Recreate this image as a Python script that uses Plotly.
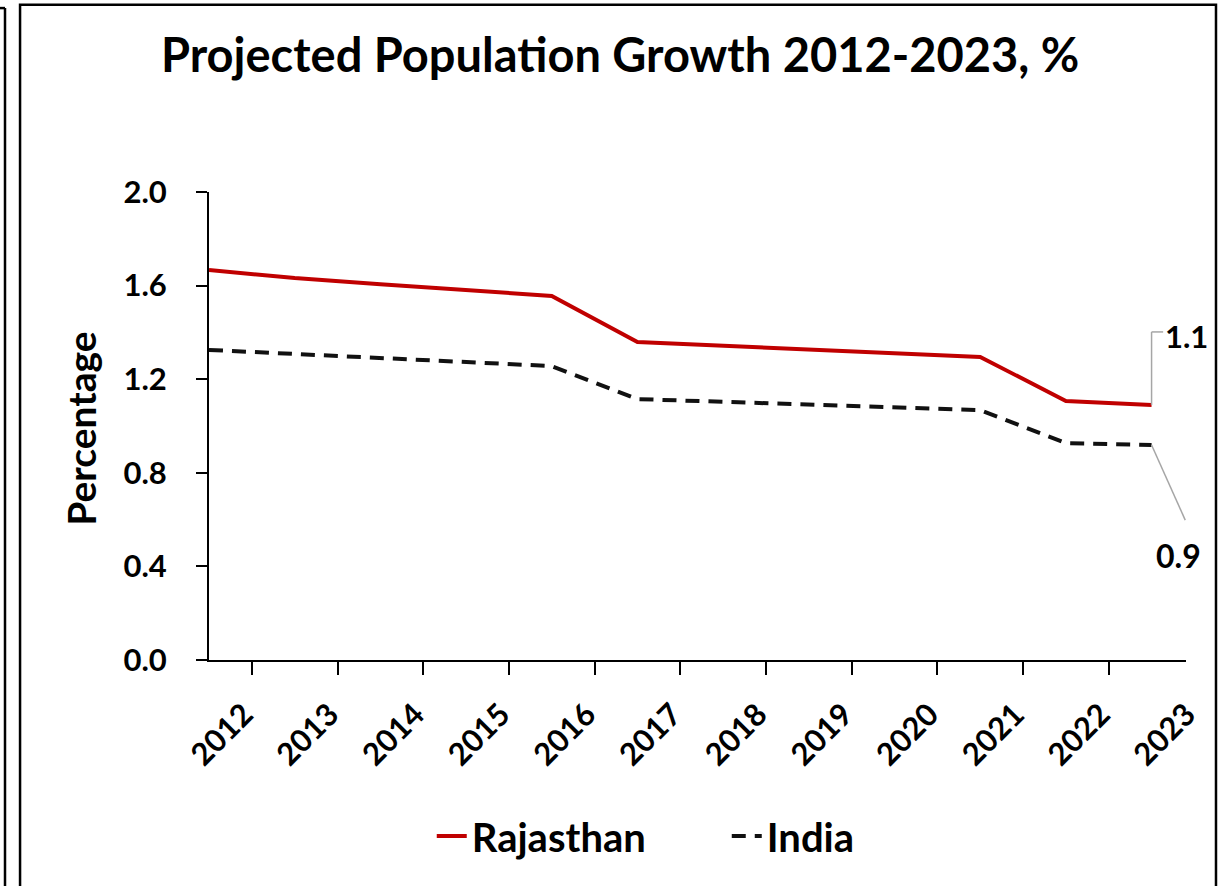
import plotly.graph_objects as go

years = ["2012", "2013", "2014", "2015", "2016", "2017", "2018", "2019", "2020", "2021", "2022", "2023"]
rajasthan = [1.667, 1.632, 1.606, 1.581, 1.556, 1.359, 1.343, 1.327, 1.311, 1.295, 1.107, 1.090]
india = [1.325, 1.308, 1.291, 1.274, 1.256, 1.115, 1.103, 1.091, 1.080, 1.068, 0.927, 0.919]
y_ticks = [0.0, 0.4, 0.8, 1.2, 1.6, 2.0]
y_tick_text = ["0.0", "0.4", "0.8", "1.2", "1.6", "2.0"]
end_labels = ["1.1", "0.9"]

FONT = "Lato"

fig = go.Figure()
fig.add_trace(go.Scatter(x=years, y=rajasthan, mode="lines", name="Rajasthan",
                         line=dict(color="#C00000", width=4)))
fig.add_trace(go.Scatter(x=years, y=india, mode="lines", name="India",
                         line=dict(color="#111111", width=4, dash="14px,9px")))

last = len(years) - 1
# leader lines for end labels
fig.add_shape(type="line", xref="x", yref="y", x0=last, y0=rajasthan[-1], x1=last, y1=1.402,
              line=dict(color="#A6A6A6", width=1.5))
fig.add_shape(type="line", xref="x", yref="y", x0=last, y0=1.402, x1=last + 0.135, y1=1.402,
              line=dict(color="#A6A6A6", width=1.5))
fig.add_shape(type="line", xref="x", yref="y", x0=last, y0=india[-1], x1=last + 0.393, y1=0.598,
              line=dict(color="#A6A6A6", width=1.5))

fig.add_annotation(text=end_labels[0], xref="paper", yref="paper", x=1.001, y=0.692,
                   xanchor="center", yanchor="middle",
                   showarrow=False, font=dict(family=FONT, size=31, color="black", weight=700))
fig.add_annotation(text=end_labels[1], xref="paper", yref="paper", x=0.992, y=0.224,
                   xanchor="center", yanchor="middle",
                   showarrow=False, font=dict(family=FONT, size=32, color="black", weight=700))

# y-axis title
fig.add_annotation(text="Percentage", xref="paper", yref="paper", x=-0.131, y=0.494,
                   xanchor="center", yanchor="middle",
                   textangle=-90, showarrow=False,
                   font=dict(family=FONT, size=39, color="black", weight=700))

# outer frames
fig.add_shape(type="rect", xref="paper", yref="paper", x0=-0.1934, x1=1.0307, y0=-0.50, y1=1.400,
              line=dict(color="black", width=2.5), layer="below")
fig.add_shape(type="line", xref="paper", yref="paper", x0=-0.2088, x1=-0.2088, y0=-0.50, y1=1.393,
              line=dict(color="black", width=2.5))
fig.add_shape(type="line", xref="paper", yref="paper", x0=-0.2200, x1=-0.2088, y0=1.393, y1=1.393,
              line=dict(color="black", width=2.5))

fig.update_layout(
    width=1228, height=886,
    margin=dict(l=209, r=42, t=192, b=226),
    paper_bgcolor="white", plot_bgcolor="white",
    title=dict(text="Projected Population Growth 2012-2023, %", x=0.505, xref="container",
               y=1 - 56 / 886, yref="container", xanchor="center", yanchor="middle",
               font=dict(family=FONT, size=47, color="black", weight=700)),
    xaxis=dict(type="category", showgrid=False, showline=True, linecolor="black", linewidth=2,
               ticks="outside", ticklen=13, tickwidth=2, tickcolor="black",
               tickson="boundaries", tickangle=-45, ticklabelstandoff=22, ticklabelshift=35,
               tickfont=dict(family=FONT, size=31, color="black", weight=700)),
    yaxis=dict(range=[0, 2.0], tickvals=y_ticks, ticktext=y_tick_text, showgrid=False,
               zeroline=False, showline=True, linecolor="black", linewidth=2,
               ticks="outside", ticklen=11, tickwidth=2, tickcolor="black",
               ticklabelstandoff=23,
               tickfont=dict(family=FONT, size=31, color="black", weight=700)),
    legend=dict(orientation="h", x=0.228, xanchor="left", y=-0.376, yanchor="middle",
                entrywidth=250, entrywidthmode="pixels",
                font=dict(family=FONT, size=40, color="black", weight=700)),
    showlegend=True,
)

fig.write_html("out.html", config={"displayModeBar": False},
               post_script="document.body.style.margin='0px';")
